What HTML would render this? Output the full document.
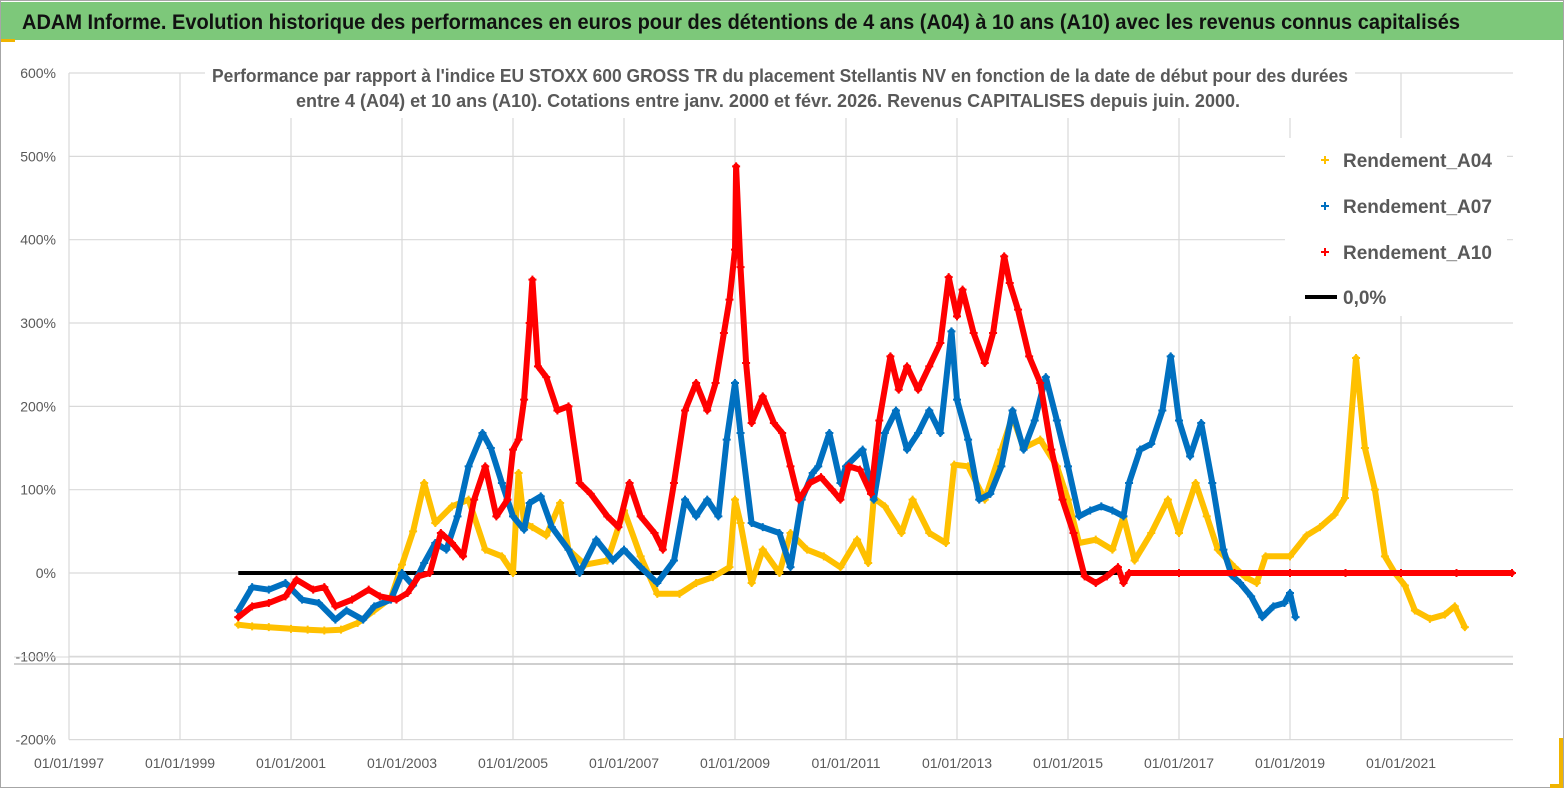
<!DOCTYPE html>
<html><head><meta charset="utf-8"><style>
html,body{margin:0;padding:0;background:#fff;}
svg{display:block;font-family:"Liberation Sans Narrow","Liberation Sans",sans-serif;}
</style></head><body>
<svg id="chart" width="1567" height="790" viewBox="0 0 1567 790" xmlns="http://www.w3.org/2000/svg">
<rect x="0" y="0" width="1567" height="790" fill="#fff"/>
<rect x="0.5" y="0.5" width="1563" height="787" fill="none" stroke="#a6a6a6"/>
<rect x="1" y="2" width="1562" height="38" fill="#7dc87a"/>
<text x="22" y="29" font-size="21" font-weight="bold" fill="#111" textLength="1438" lengthAdjust="spacingAndGlyphs">ADAM Informe. Evolution historique des performances en euros pour des détentions de 4 ans (A04) à 10 ans (A10) avec les revenus connus capitalisés</text>
<rect x="1" y="39" width="14" height="3" fill="#f0b400"/>
<path d="M1561 738 V786 H1550" stroke="#f0b400" stroke-width="4" fill="none"/>
<g id="grid"></g>
<rect x="205" y="62" width="1150" height="56" fill="#fff"/>
<text x="780" y="82" text-anchor="middle" font-size="18" font-weight="bold" fill="#595959" textLength="1136" lengthAdjust="spacingAndGlyphs">Performance par rapport à l'indice EU STOXX 600 GROSS TR  du placement Stellantis NV en fonction de la date de début pour des durées</text>
<text x="768" y="107" text-anchor="middle" font-size="18" font-weight="bold" fill="#595959" textLength="944" lengthAdjust="spacingAndGlyphs">entre 4 (A04) et 10 ans (A10). Cotations entre janv. 2000 et févr. 2026. Revenus CAPITALISES depuis juin. 2000.</text>
<g id="series"></g>
<g id="legend"></g>
</svg>
<script>
const yTicks=[600,500,400,300,200,100,0,-100,-200];
const yTickLabels=['600%','500%','400%','300%','200%','100%','0%','-100%','-200%'];
const xTicks=[1997,1999,2001,2003,2005,2007,2009,2011,2013,2015,2017,2019,2021];
const xTickLabels=['01/01/1997','01/01/1999','01/01/2001','01/01/2003','01/01/2005','01/01/2007','01/01/2009','01/01/2011','01/01/2013','01/01/2015','01/01/2017','01/01/2019','01/01/2021'];
const seriesNames=['Rendement_A04','Rendement_A07','Rendement_A10'];
const a04Dates=[2000.05,2000.3,2000.6,2001.0,2001.3,2001.6,2001.9,2002.2,2002.5,2002.8,2003.0,2003.2,2003.4,2003.6,2003.9,2004.2,2004.5,2004.8,2005.0,2005.1,2005.2,2005.35,2005.6,2005.85,2006.0,2006.3,2006.7,2007.0,2007.3,2007.6,2008.0,2008.3,2008.6,2008.9,2009.0,2009.1,2009.3,2009.5,2009.8,2010.0,2010.3,2010.6,2010.9,2011.2,2011.4,2011.5,2011.7,2012.0,2012.2,2012.5,2012.8,2012.95,2013.2,2013.5,2013.8,2014.0,2014.2,2014.5,2014.8,2015.0,2015.2,2015.5,2015.8,2016.0,2016.2,2016.5,2016.8,2017.0,2017.3,2017.5,2017.7,2018.0,2018.2,2018.4,2018.56,2019.0,2019.3,2019.54,2019.8,2019.99,2020.19,2020.35,2020.53,2020.71,2020.89,2021.07,2021.25,2021.52,2021.79,2021.97,2022.15];
const a04Values=[-62,-64,-65,-67,-68,-69,-68,-60,-45,-30,10,50,108,60,80,88,28,20,0,120,60,55,45,84,28,10,15,75,20,-25,-25,-12,-5,7,88,60,-12,28,0,48,28,20,7,40,12,90,80,48,88,48,36,130,128,88,148,188,150,160,128,88,36,40,28,68,15,48,88,48,108,68,28,7,-5,-12,20,20,45,55,70,90,258,150,100,20,0,-15,-45,-55,-50,-40,-65];
const a07Dates=[2000.05,2000.3,2000.6,2000.9,2001.2,2001.5,2001.8,2002.0,2002.3,2002.5,2002.8,2003.0,2003.2,2003.4,2003.6,2003.8,2004.0,2004.2,2004.45,2004.6,2004.8,2005.0,2005.2,2005.3,2005.5,2005.7,2006.0,2006.2,2006.5,2006.8,2007.0,2007.3,2007.6,2007.9,2008.1,2008.3,2008.5,2008.7,2008.85,2009.0,2009.1,2009.3,2009.5,2009.8,2010.0,2010.2,2010.4,2010.5,2010.7,2010.9,2011.0,2011.3,2011.5,2011.7,2011.9,2012.1,2012.3,2012.5,2012.7,2012.9,2013.0,2013.2,2013.4,2013.6,2013.8,2014.0,2014.2,2014.4,2014.6,2014.8,2015.0,2015.2,2015.4,2015.6,2015.8,2016.0,2016.1,2016.3,2016.5,2016.7,2016.85,2017.0,2017.2,2017.4,2017.6,2017.8,2017.95,2018.1,2018.3,2018.5,2018.7,2018.9,2019.0,2019.1];
const a07Values=[-45,-17,-20,-12,-32,-36,-56,-45,-56,-40,-32,0,-15,12,36,28,68,128,168,150,108,68,52,84,92,55,28,0,40,15,28,7,-12,15,88,68,88,68,160,228,168,60,55,48,7,88,120,128,168,108,128,148,88,168,195,148,168,195,168,290,208,160,88,95,128,195,148,183,235,183,128,68,75,80,75,68,108,148,155,195,260,183,140,180,108,28,-3,-12,-28,-53,-40,-36,-24,-53];
const a10Dates=[2000.05,2000.3,2000.6,2000.9,2001.1,2001.4,2001.6,2001.8,2002.1,2002.4,2002.6,2002.9,2003.1,2003.3,2003.5,2003.7,2003.9,2004.1,2004.3,2004.5,2004.7,2004.9,2005.0,2005.1,2005.2,2005.3,2005.35,2005.45,2005.6,2005.8,2006.0,2006.2,2006.4,2006.7,2006.9,2007.1,2007.3,2007.55,2007.7,2007.9,2008.1,2008.3,2008.5,2008.65,2008.8,2008.9,2009.0,2009.02,2009.1,2009.2,2009.3,2009.5,2009.7,2009.85,2010.0,2010.15,2010.35,2010.55,2010.75,2010.9,2011.05,2011.25,2011.45,2011.6,2011.8,2011.95,2012.1,2012.3,2012.5,2012.7,2012.85,2013.0,2013.1,2013.3,2013.5,2013.65,2013.85,2013.95,2014.1,2014.3,2014.5,2014.7,2014.9,2015.1,2015.3,2015.5,2015.7,2015.9,2016.0,2016.1,2017.0,2018.0,2019.0,2020.0,2021.0,2022.0,2023.0];
const a10Values=[-53,-40,-36,-28,-8,-20,-17,-40,-32,-20,-28,-32,-24,-4,0,48,36,20,88,128,68,88,148,160,208,300,352,248,235,195,200,108,95,68,55,108,68,48,28,108,195,228,195,228,288,328,388,488,367,252,180,212,180,168,128,88,108,115,100,88,128,124,95,183,260,220,248,220,248,276,355,308,340,288,252,288,380,348,316,260,228,148,88,48,-4,-12,-4,7,-12,0,0,0,0,0,0,0,0];

const X0=69, PX_PER_YEAR=55.5, Y0=573, PX_PER_PCT=0.8333, XRIGHT=1513;
function xs(d){return X0+(d-1997)*PX_PER_YEAR;}
function ys(v){return Y0-v*PX_PER_PCT;}
const NS='http://www.w3.org/2000/svg';
function mk(tag,attrs,parent){const e=document.createElementNS(NS,tag);for(const k in attrs)e.setAttribute(k,attrs[k]);parent.appendChild(e);return e;}
const grid=document.getElementById('grid');
yTicks.forEach((t,i)=>{
  const l=mk('line',{x1:X0,x2:XRIGHT,y1:ys(t),y2:ys(t),stroke:'#d9d9d9','stroke-width':1.2},grid);
  
  
  const tx=mk('text',{x:56,y:ys(t)+5,'text-anchor':'end','font-size':14,fill:'#595959'},grid);
  tx.textContent=yTickLabels[i];
  
  
});
xTicks.forEach((t,i)=>{
  const l=mk('line',{x1:xs(t),x2:xs(t),y1:ys(600),y2:ys(-200),stroke:'#d9d9d9','stroke-width':1.2},grid);
  
  
  const tx=mk('text',{x:xs(t),y:768,'text-anchor':'middle','font-size':14,fill:'#595959'},grid);
  tx.textContent=xTickLabels[i];
  
  
});
const sep1=mk('line',{x1:14,x2:XRIGHT,y1:657,y2:657,stroke:'#d9d9d9','stroke-width':1},grid);


const sep2=mk('line',{x1:14,x2:XRIGHT,y1:664,y2:664,stroke:'#bfbfbf','stroke-width':1.5},grid);



const ser=document.getElementById('series');
const zl=mk('line',{x1:xs(2000.05),x2:xs(2015.95),y1:ys(0),y2:ys(0),stroke:'#000','stroke-width':4},ser);


function drawSeries(dates,vals,color,name){
  const g=mk('g',{},ser);
  
  
  const pts=dates.map((d,i)=>xs(d).toFixed(1)+','+ys(vals[i]).toFixed(1)).join(' ');
  const pl=mk('polyline',{points:pts,fill:'none',stroke:color,'stroke-width':6,'stroke-linejoin':'round','stroke-linecap':'round'},g);
  
  
  dates.forEach((d,i)=>{
    const x=xs(d),y=ys(vals[i]);
    const p=mk('path',{d:`M${x-4} ${y}H${x+4}M${x} ${y-4}V${y+4}`,stroke:color,'stroke-width':2},g);
    
    
  });
}
drawSeries(a04Dates,a04Values,'#ffc000','series-a04');
drawSeries(a07Dates,a07Values,'#0070c0','series-a07');
drawSeries(a10Dates,a10Values,'#ff0000','series-a10');

const lg=document.getElementById('legend');
const lbg=mk('rect',{x:1285,y:138,width:222,height:178,fill:'#fff'},lg);


const legColors=['#ffc000','#0070c0','#ff0000'];
const legY=[160,206,252];
seriesNames.forEach((n,i)=>{
  const y=legY[i];
  const m=mk('path',{d:`M1321 ${y}H1329M1325 ${y-4}V${y+4}`,stroke:legColors[i],'stroke-width':2},lg);
  
  
  const t=mk('text',{x:1343,y:y+7,'font-size':19,'font-weight':'bold',fill:'#595959'},lg);
  t.textContent=n;
  
  
});
const ll=mk('line',{x1:1305,x2:1337,y1:297,y2:297,stroke:'#000','stroke-width':4},lg);


const lt=mk('text',{x:1343,y:304,'font-size':19,'font-weight':'bold',fill:'#595959'},lg);
lt.textContent='0,0%';


</script>
</body></html>
